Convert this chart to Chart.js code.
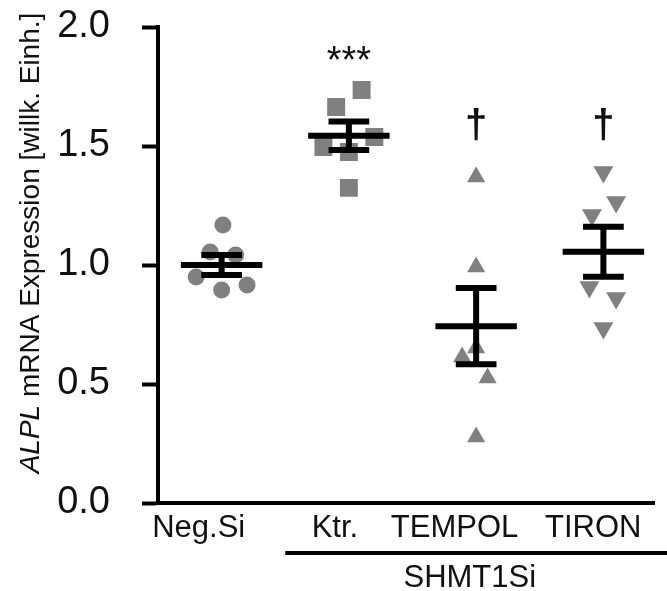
<!DOCTYPE html>
<html>
<head>
<meta charset="utf-8">
<script src="https://cdn.jsdelivr.net/npm/chart.js@4"></script>
<style>
  html, body { margin: 0; padding: 0; background: #fff; }
  #wrap { width: 667px; height: 591px; }
</style>
</head>
<body>
<div id="wrap"><canvas id="grafico-alpl" width="667" height="591"></canvas></div>
<script>
// daten
const categories = ['Neg.Si', 'Ktr.', 'TEMPOL', 'TIRON'];
const groupLabel = 'SHMT1Si';
const negSi = [1.168, 1.055, 1.042, 0.950, 0.895, 0.916];
const ktr = [1.735, 1.664, 1.538, 1.496, 1.475, 1.324];
const tempol = [1.370, 0.992, 0.651, 0.613, 0.525, 0.277];
const tiron = [1.391, 1.265, 1.210, 0.908, 0.861, 0.735];
const negSiJitter = [0.01, -0.09, 0.11, -0.2, 0, 0.2];
const ktrJitter = [0.1, -0.1, 0.2, -0.2, 0, 0];
const tempolJitter = [0, 0, 0, -0.11, 0.09, 0];
const tironJitter = [0, 0.1, -0.09, -0.11, 0.1, 0];
const means = [1.0, 1.543, 0.743, 1.056];
const sems = [0.042, 0.06, 0.16, 0.105];
const yTicks = [0, 0.5, 1.0, 1.5, 2.0];
const marks = ['', '***', '\u2020', '\u2020'];

(function () {
  const FONT = "'Liberation Sans', Arial, sans-serif";
  const GRAY = '#808080';
  const labelShift = [-0.18, -0.11, -0.17, -0.08];

  function puntos(values, jitter, i) {
    return values.map((v, k) => ({ x: i + jitter[k], y: v }));
  }

  // Mittelwert- und SEM-Linien, getrennt durch null
  const meanLine = [], stems = [], caps = [];
  means.forEach((m, i) => {
    meanLine.push({ x: i - 0.32, y: m }, { x: i + 0.32, y: m }, { x: i, y: null });
    stems.push({ x: i, y: m - sems[i] }, { x: i, y: m + sems[i] }, { x: i, y: null });
    caps.push({ x: i - 0.16, y: m + sems[i] }, { x: i + 0.16, y: m + sems[i] }, { x: i, y: null });
    caps.push({ x: i - 0.16, y: m - sems[i] }, { x: i + 0.16, y: m - sems[i] }, { x: i, y: null });
  });

  const lineDs = data => ({
    type: 'scatter', data, showLine: true, spanGaps: false,
    borderColor: '#000', borderWidth: 6, borderCapStyle: 'butt',
    pointRadius: 0, order: 0
  });
  const dotDs = (data, style, r, rot) => ({
    type: 'scatter', data, pointStyle: style, pointRadius: r, pointRotation: rot || 0,
    backgroundColor: GRAY, borderColor: GRAY, borderWidth: 0, order: 1
  });

  const extras = {
    id: 'extras',
    afterDraw(chart) {
      const ctx = chart.ctx;
      const x = chart.scales.x;
      ctx.save();
      ctx.fillStyle = '#111';
      ctx.textAlign = 'center';
      ctx.textBaseline = 'alphabetic';
      // Signifikanzzeichen
      marks.forEach((t, i) => {
        if (!t) return;
        if (t === '***') {
          ctx.font = '38px ' + FONT;
          ctx.fillText(t, x.getPixelForValue(i), 73);
        } else {
          ctx.font = 'bold 40px ' + FONT;
          ctx.fillText(t, x.getPixelForValue(i), 138);
        }
      });
      // SHMT1Si Gruppe
      ctx.strokeStyle = '#000';
      ctx.lineWidth = 4;
      ctx.beginPath();
      ctx.moveTo(x.getPixelForValue(0.5), 553);
      ctx.lineTo(chart.width, 553);
      ctx.stroke();
      ctx.font = '31px ' + FONT;
      ctx.textBaseline = 'middle';
      ctx.fillText(groupLabel, x.getPixelForValue(1.95), 578);
      // y-Achsentitel
      ctx.translate(31, 243);
      ctx.rotate(-Math.PI / 2);
      const fIt = 'italic 28px ' + FONT, fNo = '28px ' + FONT;
      const a = 'ALPL', b = ' mRNA Expression [willk. Einh.]';
      ctx.font = fIt; const wa = ctx.measureText(a).width;
      ctx.font = fNo; const wb = ctx.measureText(b).width;
      const x0 = -(wa + wb) / 2;
      ctx.textAlign = 'left';
      ctx.font = fIt; ctx.fillText(a, x0, 0);
      ctx.font = fNo; ctx.fillText(b, x0 + wa, 0);
      ctx.restore();
    }
  };

  new Chart(document.getElementById('grafico-alpl'), {
    type: 'scatter',
    data: {
      datasets: [
        lineDs(meanLine), lineDs(stems), lineDs(caps),
        dotDs(puntos(negSi, negSiJitter, 0), 'circle', 8.5),
        dotDs(puntos(ktr, ktrJitter, 1), 'rect', 12.7),
        dotDs(puntos(tempol, tempolJitter, 2), 'triangle', 10.5),
        dotDs(puntos(tiron, tironJitter, 3), 'triangle', 11.5, 180)
      ]
    },
    options: {
      responsive: false,
      animation: false,
      layout: { padding: { top: 27, right: 0, left: 0, bottom: 0 } },
      plugins: { legend: { display: false }, tooltip: { enabled: false } },
      scales: {
        x: {
          type: 'linear', min: -0.5, max: 3.4,
          afterFit: s => { s.height = 88; s.paddingLeft = 0; s.paddingRight = 0; },
          afterBuildTicks: s => { s.ticks = categories.map((c, i) => ({ value: i + labelShift[i] })); },
          grid: { display: false, drawTicks: false },
          border: { display: true, color: '#000', width: 4 },
          ticks: {
            autoSkip: false, maxRotation: 0, padding: 7, color: '#111',
            font: { family: FONT, size: 31 },
            callback: (v, i) => categories[i]
          }
        },
        y: {
          min: 0, max: 2,
          afterFit: s => { s.width = 158; s.paddingTop = 0; s.paddingBottom = 0; },
          afterBuildTicks: s => { s.ticks = yTicks.map(v => ({ value: v })); },
          grid: { drawOnChartArea: false, drawTicks: true, tickLength: 16, tickWidth: 4, tickColor: '#000', color: '#000' },
          border: { display: true, color: '#000', width: 4 },
          ticks: {
            padding: 32, color: '#111',
            font: { family: FONT, size: 38 },
            callback: v => v.toFixed(1)
          }
        }
      }
    },
    plugins: [extras]
  });
})();
</script>
</body>
</html>
